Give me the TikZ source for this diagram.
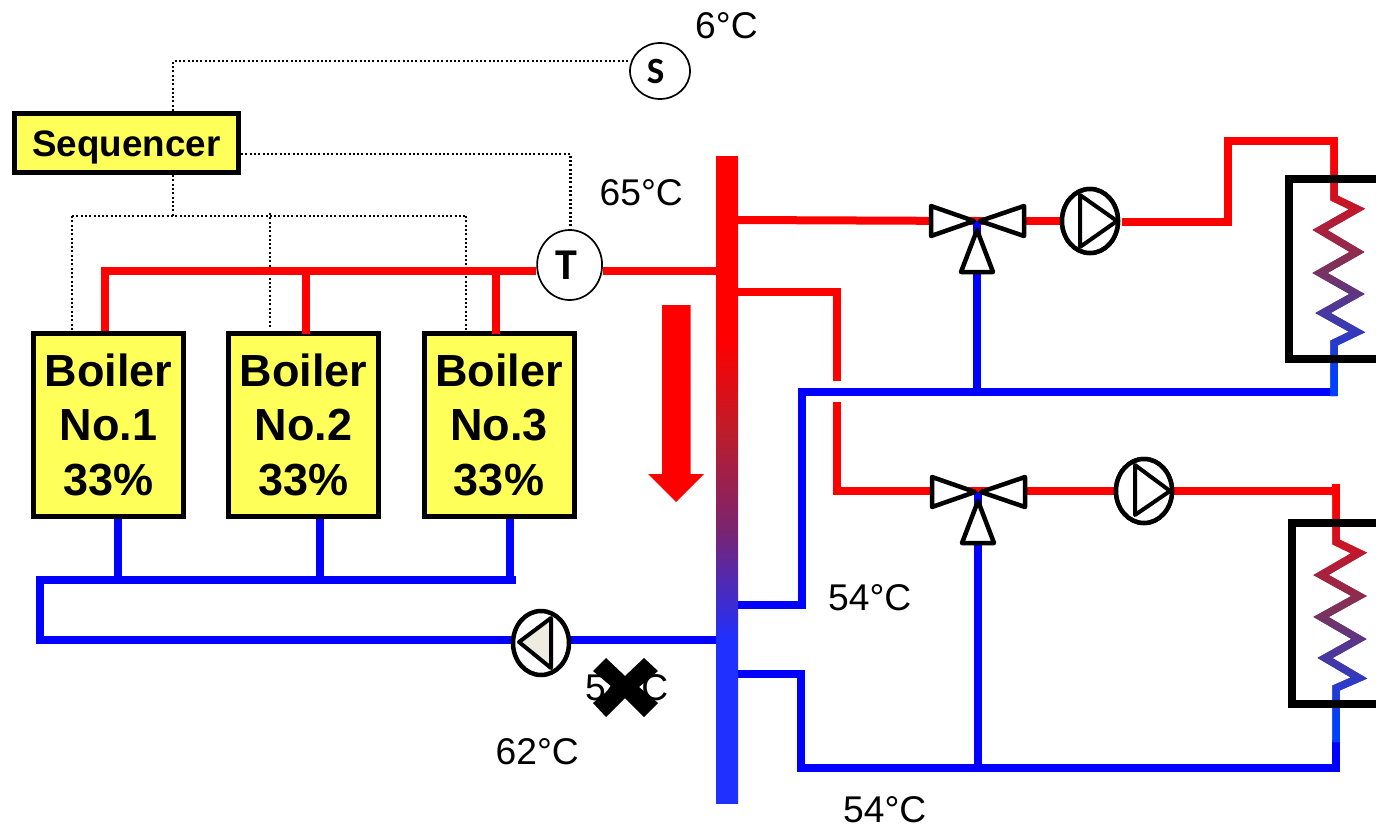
\documentclass[tikz,border=0pt]{standalone}
\usepackage{fontspec}
\setmainfont{Liberation Sans}
\newfontfamily\carl{Carlito}
\usetikzlibrary{shapes.geometric}
\definecolor{boxyellow}{RGB}{255,255,90}
\definecolor{barblue}{RGB}{32,48,255}
\definecolor{barupper}{RGB}{190,28,42}
\definecolor{barlower}{RGB}{122,36,112}
\definecolor{coilmid}{RGB}{125,50,90}
\definecolor{coilblue}{RGB}{0,64,255}
\definecolor{pumpgrey}{RGB}{238,236,225}
\pgfdeclareverticalshading{barshade}{100bp}{color(0bp)=(barblue); color(37.6bp)=(barblue); color(46.1bp)=(barlower); color(53.8bp)=(barupper); color(60.8bp)=(red); color(100bp)=(red)}
\tikzset{
  redpipe/.style={draw=red,line width=8pt},
  bluepipe/.style={draw=blue,line width=8pt},
  signal/.style={draw=black,line width=2.2pt,dash pattern=on 2pt off 2.3pt},
  boilerbox/.style={draw=black,fill=boxyellow,line width=5pt,minimum width=150pt,minimum height=183pt,inner sep=0pt,align=center,
    font=\fontsize{45}{54.5}\selectfont\bfseries},
  seqbox/.style={draw=black,fill=boxyellow,line width=5pt,minimum width=224pt,minimum height=59pt,inner sep=0pt,
    text height=26.3pt,text depth=0pt,font=\fontsize{36.8}{40}\selectfont\bfseries},
  sensor/.style={ellipse,draw=black,fill=white,line width=1.7pt,inner sep=0pt},
  pump/.style={ellipse,draw=black,fill=white,line width=4.5pt,inner sep=0pt,minimum width=56pt,minimum height=64pt},
  pumptri/.style={draw=black,line width=4pt,line join=round},
  valvetri/.style={draw=black,fill=white,line width=4.5pt,line join=round},
  temp/.style={anchor=base west,inner sep=0pt,font=\fontsize{37.2}{40}\selectfont},
  coilbox/.style={draw=black,line width=8pt},
}
% gradient-stroked pipe: #1 top y, #2 bottom y of the gradient, #3 first slice y, #4 last slice y, #5 path
\newcommand{\gradstroke}[5]{%
  \foreach \yy in {#3,...,#4}{%
    \pgfmathsetmacro{\tval}{min(1,max(0,(\yy-#1)/(#2-#1)))}%
    \begin{scope}
      \ifdim\tval pt<0.5pt
        \pgfmathsetmacro{\pct}{200*\tval}\colorlet{slicecol}{coilmid!\pct!red}%
      \else
        \pgfmathsetmacro{\pct}{200*\tval-100}\colorlet{slicecol}{coilblue!\pct!coilmid}%
      \fi
      \clip (1270,\yy) rectangle (1376,\yy+1.6);
      \draw[draw=slicecol,line width=7.5pt,miter limit=10] #5;
    \end{scope}
  }%
}
\begin{document}
\begin{tikzpicture}[x=1pt,y=-1pt]
\useasboundingbox (0,0) rectangle (1376,825);
\fill[white] (0,0) rectangle (1376,825);

% --- named points
\coordinate (v1) at (977,221);
\coordinate (v2) at (978,492);
\coordinate (hdrL) at (105,271);
\coordinate (hdrR) at (718,271);
\coordinate (bar1) at (738,220);
\coordinate (bar2) at (738,292);
\coordinate (bar3) at (738,605);
\coordinate (bar4) at (738,674);
\coordinate (bar5) at (718,640);
\coordinate (cA) at (837,292);
\coordinate (cB) at (837,381);
\coordinate (cC) at (837,402);
\coordinate (cD) at (837,491);
\coordinate (dA) at (802,605);
\coordinate (dB) at (802,392);
\coordinate (dC) at (1338,392);
\coordinate (eA) at (801,674);
\coordinate (eB) at (801,768);
\coordinate (eC) at (1336,768);
\coordinate (eD) at (1336,740);
\coordinate (fA) at (1228,222);
\coordinate (fB) at (1228,141);
\coordinate (fC) at (1338,141);
\coordinate (gA) at (1336,491);
\coordinate (gB) at (1336,484);
\coordinate (j1) at (977,392);
\coordinate (j2) at (978,768);
\coordinate (mA) at (40,580);
\coordinate (mB) at (40,640);
\coordinate (mC) at (516,580);
\coordinate (t1) at (117.5,580);
\coordinate (t2) at (319.5,580);
\coordinate (t3) at (509.5,580);
\coordinate (r2) at (305.5,271);
\coordinate (r3) at (496,271);
\coordinate (r2b) at (305.5,334);
\coordinate (r3b) at (496,334);
\coordinate (s1) at (173,61);
\coordinate (s2) at (570.5,154);
\coordinate (s3) at (173,216);
\coordinate (s4) at (72,216);
\coordinate (s5) at (466,216);
\coordinate (s6) at (270,213);
\coordinate (s7) at (72,330);
\coordinate (s8) at (270,328);
\coordinate (s9) at (466,330);

% --- boxes
\node[boilerbox] (b1) at (108.5,424.5) {Boiler\\No.1\\33\%};
\node[boilerbox] (b2) at (303.5,424.5) {Boiler\\No.2\\33\%};
\node[boilerbox] (b3) at (499,424.5) {Boiler\\No.3\\33\%};
\node[seqbox] (seq) at (126.5,143) {Sequencer};

% --- temperature labels
\node[temp] (l6) at (695,38) {6°C};
\node[temp] (l65) at (599.5,205) {65°C};
\node[temp] (l54a) at (828,610) {54°C};
\node[temp] (l54b) at (843,822) {54°C};
\node[temp] (l62) at (495.5,764) {62°C};
\node[temp] (l54c) at (585,700) {54°C};

% --- control wiring
\node[sensor,minimum width=60pt,minimum height=56pt,font=\carl\fontsize{37}{40}\selectfont\bfseries] (S) at (660,71) {S\hspace*{9pt}};
\node[sensor,minimum width=65pt,minimum height=70pt,font=\carl\fontsize{44}{46}\selectfont\bfseries] (T) at (569.6,265) {T\hspace*{6pt}};
\draw[signal] (seq.north -| s1) -- (s1) -- (s1 -| S.west);
\draw[signal] (s2 -| seq.east) -- (s2) -- (s2 |- T.north);
\draw[signal] (seq.south -| s3) -- (s3);
\draw[signal] (s4) -- (s5);
\draw[signal] (s4) -- (s7);
\draw[signal] (s6) -- (s8);
\draw[signal] (s5) -- (s9);

% --- hot side
\draw[redpipe] (hdrL |- b1.north) -- (hdrL) -- (T.west |- hdrL);
\draw[redpipe] (T.east |- hdrR) -- (hdrR);
\draw[redpipe] (r2b) -- (r2);
\draw[redpipe] (r3b) -- (r3);
\draw[redpipe] (bar1) -- (v1);
\draw[redpipe] (bar2) -- (cA) -- (cB);
\draw[redpipe] (cC) -- (cD) -- (v2 |- cD);
\draw[redpipe] (v2 |- cD) -- (gA) -- (gB);
\node[pump] (p1) at (1090,221) {};
\node[pump] (p2) at (1144,491) {};
\draw[redpipe] (v1) -- (p1.west);
\draw[redpipe] ([xshift=2pt]p1.east |- fA) -- (fA) -- (fB) -- (fC);

% --- cold side
\draw[bluepipe] (t1 |- b1.south) -- (t1);
\draw[bluepipe] (t2 |- b2.south) -- (t2);
\draw[bluepipe] (t3 |- b3.south) -- (t3);
\draw[bluepipe] (mC) -- (mA) -- (mB) -- (bar5);
\draw[bluepipe] (bar3) -- (dA) -- (dB) -- (dC);
\draw[bluepipe] (bar4) -- (eA) -- (eB) -- (eC) -- (eD);
\draw[bluepipe] (j1) -- (v1);
\draw[bluepipe] (j2) -- (v2);

% --- pumps on top of the pipes
\node[pump] (p1b) at (p1) {};
\node[pump] (p2b) at (p2) {};
\node[pump] (p3) at (541,643) {};
\draw[pumptri] ([shift={(-10,-26)}]p1b.center) -- ([shift={(-10,26)}]p1b.center) -- ([shift={(27,0)}]p1b.center) -- cycle;
\draw[pumptri] ([shift={(-9,-26)}]p2b.center) -- ([shift={(-9,24)}]p2b.center) -- ([shift={(26,0)}]p2b.center) -- cycle;
\draw[pumptri,fill=pumpgrey] ([shift={(-22,-1)}]p3.center) -- ([shift={(10,-25)}]p3.center) -- ([shift={(10,25)}]p3.center) -- cycle;

% --- three-way valves
\foreach \vv in {v1,v2}{
  \draw[valvetri] ([shift={(-46,-15)}]\vv) -- ([shift={(-46,15)}]\vv) -- ([shift={(-3,0)}]\vv) -- cycle;
  \draw[valvetri] ([shift={(47,-15)}]\vv) -- ([shift={(47,15)}]\vv) -- ([shift={(3,0)}]\vv) -- cycle;
  \draw[valvetri] ([shift={(0,9)}]\vv) -- ([shift={(-16,51)}]\vv) -- ([shift={(16,51)}]\vv) -- cycle;
}

% --- distribution bar
\shade[shading=barshade] (716,156) rectangle (738,803);

% --- flow arrow
\fill[red] (662,305) -- (690.5,305) -- (690.5,474) -- (704,474) -- (676,502) -- (648,474) -- (662,474) -- cycle;

% --- cancelled label
\fill[black] (606,658) -- (625,676) -- (644,658) -- (658,671) -- (639,687) -- (658,703) -- (644,717) -- (625,698) -- (606,717) -- (593,703) -- (612,687) -- (593,671) -- cycle;

% --- emitters
\gradstroke{155}{378}{141}{396}{(1334,141) -- (1334,198) -- (1357,209) -- (1320,230) -- (1357,252) -- (1320,273) -- (1357,294) -- (1323,313) -- (1357,332) -- (1334,343) -- (1334,396)}
\gradstroke{499}{722}{484}{742}{(1336,484) -- (1336,542) -- (1359,553) -- (1321,575) -- (1359,596) -- (1321,617) -- (1359,639) -- (1325,658) -- (1359,678) -- (1336,688) -- (1336,742)}
\draw[coilbox] (1380,179) -- (1289,179) -- (1289,359) -- (1380,359);
\draw[coilbox] (1380,523) -- (1292,523) -- (1292,704) -- (1380,704);
\end{tikzpicture}
\end{document}
